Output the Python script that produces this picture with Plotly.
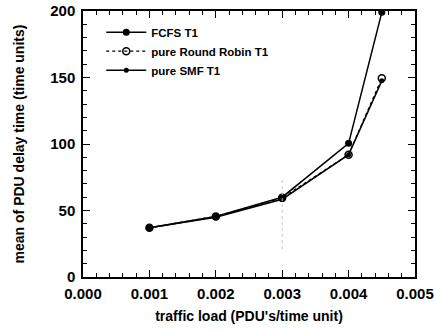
import plotly.graph_objects as go

load = [0.001, 0.002, 0.003, 0.004, 0.0045]
fcfs = [37, 45.5, 60, 100.5, 199]
round_robin = [37, 45.5, 59.5, 92, 149.5]
smf = [37, 45, 58.5, 92, 147.5]

FONT = "Liberation Sans, Arial, sans-serif"

fig = go.Figure()
fig.add_trace(go.Scatter(
    x=load, y=fcfs, name="FCFS T1", mode="lines+markers",
    line=dict(color="black", width=1.5),
    marker=dict(symbol="circle", size=7, color="black"),
))
fig.add_trace(go.Scatter(
    x=load, y=round_robin, name="pure Round Robin T1", mode="lines+markers",
    line=dict(color="black", width=1.3, dash="dot"),
    marker=dict(symbol="circle-open", size=7, color="black", line=dict(width=1.5)),
))
fig.add_trace(go.Scatter(
    x=load, y=smf, name="pure SMF T1", mode="lines+markers",
    line=dict(color="black", width=1.5),
    marker=dict(symbol="circle", size=5, color="black"),
))
# faint dotted vertical artifact at 0.003
fig.add_shape(type="line", x0=0.003, x1=0.003, y0=21, y1=73,
              xref="x", yref="y", line=dict(color="#c8c8c8", width=1, dash="dot"))

axis_common = dict(
    showgrid=False, zeroline=False, showline=True, linecolor="black", linewidth=1.5,
    mirror="ticks", ticks="inside", tickcolor="black", ticklen=7, tickwidth=1.3,
    tickfont=dict(family=FONT, size=15, color="black", weight="bold"),
    automargin=False,
)

fig.update_layout(
    width=434, height=330,
    margin=dict(l=83, r=19, t=11, b=53),
    paper_bgcolor="white", plot_bgcolor="white",
    font=dict(family=FONT, color="black"),
    showlegend=True,
    legend=dict(
        x=0.055, y=0.975, xanchor="left", yanchor="top",
        bgcolor="rgba(0,0,0,0)", borderwidth=0,
        font=dict(family=FONT, size=11.5, color="black", weight="bold"),
        tracegroupgap=0, itemwidth=40,
    ),
    xaxis=dict(
        range=[0, 0.005], tickvals=[0, 0.001, 0.002, 0.003, 0.004, 0.005],
        ticktext=["0.000", "0.001", "0.002", "0.003", "0.004", "0.005"],
        ticklabelstandoff=2,
        minor=dict(dtick=0.0002, ticks="inside", ticklen=4, tickcolor="black", tickwidth=1),
        title=dict(text="traffic load (PDU's/time unit)", standoff=10,
                   font=dict(family=FONT, size=14, color="black", weight="bold")),
        **axis_common,
    ),
    yaxis=dict(
        range=[0, 200], tickvals=[0, 50, 100, 150, 200],
        ticklabelstandoff=3,
        minor=dict(dtick=10, ticks="inside", ticklen=4, tickcolor="black", tickwidth=1),
        title=dict(text="mean of PDU delay time (time units)", standoff=22,
                   font=dict(family=FONT, size=14, color="black", weight="bold")),
        **axis_common,
    ),
)

fig.write_html("out.html")
